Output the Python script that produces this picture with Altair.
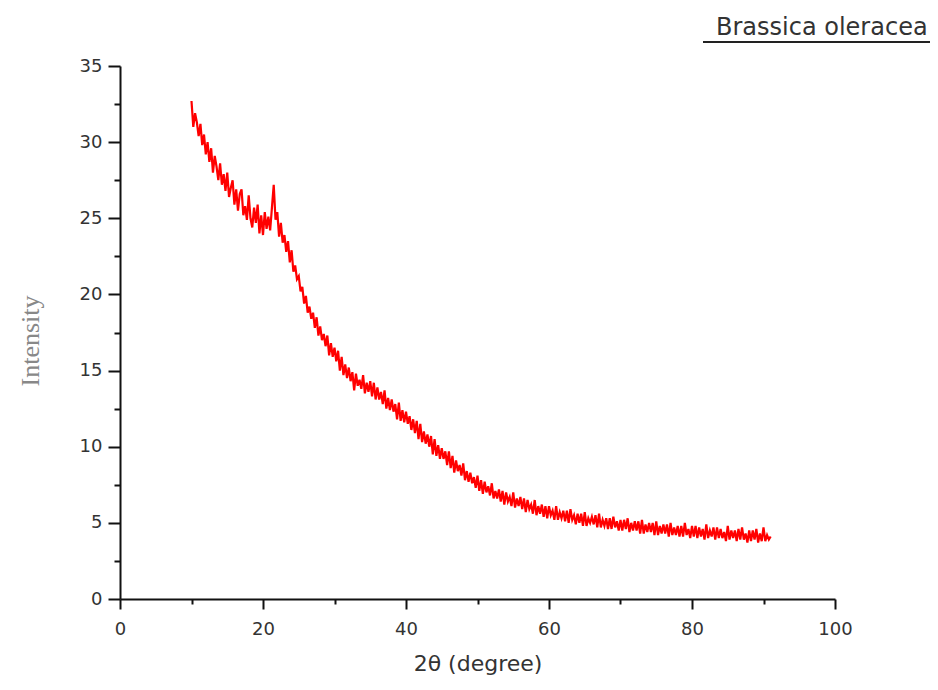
import altair as alt
import pandas as pd

# XRD pattern (2-theta from 10 to 91 deg, 0.25 deg sampling)
x_start = 10.0
x_step = 0.25
intensity = [
    32.7, 31.0, 31.9, 31.3,  # 10
    30.4, 31.2, 29.8, 30.5,  # 11
    29.2, 30.0, 28.7, 29.6,  # 12
    28.0, 29.1, 28.4, 27.5,  # 13
    28.6, 27.2, 27.9, 26.8,  # 14
    28.0, 26.4, 27.0, 27.5,  # 15
    25.9, 26.9, 25.5, 26.6,  # 16
    26.9, 25.2, 25.8, 24.9,  # 17
    26.5, 25.0, 24.4, 25.7,  # 18
    24.7, 25.9, 24.0, 25.2,  # 19
    23.9, 25.4, 24.3, 25.1,  # 20
    24.2, 25.7, 27.2, 24.9,  # 21
    25.4, 23.8, 24.7, 23.4,  # 22
    23.9, 22.8, 23.5, 22.1,  # 23
    22.9, 21.5, 21.9, 21.0,  # 24
    21.2, 20.2, 20.5, 19.4,  # 25
    19.9, 18.8, 19.2, 18.4,  # 26
    18.8, 17.8, 18.5, 17.3,  # 27
    17.9, 17.0, 17.4, 16.6,  # 28
    17.3, 16.0, 16.8, 15.9,  # 29
    16.5, 15.6, 16.3, 15.0,  # 30
    15.9, 14.7, 15.4, 14.5,  # 31
    15.2, 14.3, 14.9, 13.7,  # 32
    14.8, 14.0, 14.4, 13.8,  # 33
    14.7, 13.5, 14.2, 13.6,  # 34
    14.3, 13.3, 14.2, 13.1,  # 35
    13.9, 13.1, 13.6, 12.8,  # 36
    13.7, 12.5, 13.2, 12.4,  # 37
    13.1, 12.3, 12.8, 11.8,  # 38
    12.9, 11.7, 12.4, 11.6,  # 39
    12.3, 11.5, 12.0, 11.1,  # 40
    11.8, 10.9, 11.7, 10.5,  # 41
    11.5, 10.3, 11.0, 10.2,  # 42
    10.8, 10.0, 10.7, 9.5,   # 43
    10.5, 9.4, 10.1, 9.2,    # 44
    9.9, 9.2, 9.7, 8.8,      # 45
    9.7, 8.6, 9.4, 8.3,      # 46
    9.1, 8.4, 8.8, 8.1,      # 47
    8.9, 7.8, 8.4, 7.7,      # 48
    8.3, 7.6, 8.0, 7.3,      # 49
    8.1, 7.1, 7.8, 6.9,      # 50
    7.7, 7.0, 7.4, 6.8,      # 51
    7.6, 6.6, 7.1, 6.6,      # 52
    7.2, 6.4, 7.1, 6.2,      # 53
    7.0, 6.4, 6.7, 6.1,      # 54
    7.0, 6.0, 6.6, 6.1,      # 55
    6.7, 5.9, 6.6, 5.7,      # 56
    6.5, 5.9, 6.2, 5.6,      # 57
    6.5, 5.5, 6.1, 5.6,      # 58
    6.2, 5.4, 6.1, 5.3,      # 59
    6.1, 5.5, 5.8, 5.2,      # 60
    6.1, 5.2, 5.7, 5.3,      # 61
    5.8, 5.1, 5.8, 5.0,      # 62
    5.9, 5.2, 5.5, 4.9,      # 63
    5.6, 5.0, 5.6, 4.8,      # 64
    5.7, 4.8, 5.3, 5.0,      # 65
    5.4, 4.9, 5.5, 4.7,      # 66
    5.6, 4.7, 5.2, 4.8,      # 67
    5.3, 4.6, 5.3, 4.6,      # 68
    5.4, 4.7, 5.1, 4.5,      # 69
    5.2, 4.5, 5.2, 4.6,      # 70
    5.3, 4.4, 5.0, 4.5,      # 71
    5.1, 4.5, 5.1, 4.3,      # 72
    5.2, 4.3, 4.9, 4.4,      # 73
    5.0, 4.4, 5.0, 4.2,      # 74
    5.1, 4.2, 4.8, 4.3,      # 75
    4.9, 4.3, 4.9, 4.1,      # 76
    5.0, 4.2, 4.7, 4.2,      # 77
    4.8, 4.1, 4.8, 4.1,      # 78
    5.0, 4.2, 4.6, 4.0,      # 79
    4.8, 4.1, 4.8, 4.0,      # 80
    4.7, 4.1, 4.6, 3.9,      # 81
    4.9, 4.0, 4.5, 4.1,      # 82
    4.7, 3.9, 4.7, 4.0,      # 83
    4.6, 4.0, 4.4, 3.8,      # 84
    4.8, 3.9, 4.5, 4.0,      # 85
    4.5, 3.8, 4.6, 3.9,      # 86
    4.7, 3.9, 4.3, 3.7,      # 87
    4.5, 3.8, 4.5, 3.9,      # 88
    4.6, 3.7, 4.3, 3.8,      # 89
    4.7, 3.8, 4.2, 3.9,      # 90
    4.1,                     # 91
]
two_theta = [x_start + i * x_step for i in range(len(intensity))]

x_ticks = [0, 10, 20, 30, 40, 50, 60, 70, 80, 90, 100]
y_ticks = [0, 2.5, 5, 7.5, 10, 12.5, 15, 17.5, 20, 22.5, 25, 27.5, 30, 32.5, 35]
legend_label = "Brassica oleracea"
x_title = "2θ (degree)"
y_title = "Intensity"

df = pd.DataFrame({"two_theta": two_theta, "intensity": intensity})

W, H = 715, 533

line = alt.Chart(df).mark_line(color="#ff0000", strokeWidth=2.2).encode(
    x=alt.X(
        "two_theta:Q",
        scale=alt.Scale(domain=[0, 100], nice=False, zero=False),
        axis=alt.Axis(
            values=x_ticks,
            labelExpr="datum.value % 20 === 0 ? datum.label : ''",
            labelFlush=False,
            labelOverlap=False,
            grid=False,
            domainColor="#111",
            domainWidth=2,
            tickColor="#111",
            tickWidth=2,
            tickSize={"condition": {"test": "datum.value % 20 !== 0", "value": 5}, "value": 10},
            labelFont="DejaVu Sans",
            labelFontSize=18,
            labelColor="#333",
            labelPadding=11,
            title=x_title,
            titleFont="DejaVu Sans",
            titleFontSize=22,
            titleFontWeight="normal",
            titleColor="#333",
            titleX=W / 2,
            titleY=64,
            titleBaseline="middle",
            titleAlign="center",
        ),
    ),
    y=alt.Y(
        "intensity:Q",
        scale=alt.Scale(domain=[0, 35], nice=False, zero=False),
        axis=alt.Axis(
            values=y_ticks,
            labelExpr="datum.value % 5 === 0 ? datum.label : ''",
            labelFlush=False,
            labelOverlap=False,
            grid=False,
            domainColor="#111",
            domainWidth=2,
            tickColor="#111",
            tickWidth=2,
            tickSize={"condition": {"test": "datum.value % 5 !== 0", "value": 6}, "value": 12},
            labelFont="DejaVu Sans",
            labelFontSize=18,
            labelColor="#333",
            labelPadding=6,
            title=y_title,
            titleFont="Liberation Serif",
            titleFontSize=26,
            titleFontWeight="normal",
            titleColor="#888",
            titleX=-90,
            titleY=H / 2 + 8,
            titleBaseline="middle",
            titleAlign="center",
            titleAngle=270,
        ),
    ),
)

legend_text = alt.Chart(pd.DataFrame({"label": [legend_label]})).mark_text(
    align="left", baseline="alphabetic", font="DejaVu Sans", fontSize=24,
    color="#333", clip=False,
).encode(text="label:N", x=alt.value(596), y=alt.value(-31))

legend_rule = alt.Chart(pd.DataFrame({"label": [legend_label]})).mark_rule(
    color="#222", strokeWidth=2, clip=False
).encode(x=alt.value(583), x2=alt.value(820), y=alt.value(-24))

chart = alt.layer(line, legend_text, legend_rule).properties(
    width=W,
    height=H,
    autosize=alt.AutoSizeParams(type="none"),
    padding={"left": 112, "top": 58, "right": 95, "bottom": 78},
    background="white",
).configure_view(stroke=None)

chart.save("out.html", embed_options={"renderer": "svg", "actions": False})
